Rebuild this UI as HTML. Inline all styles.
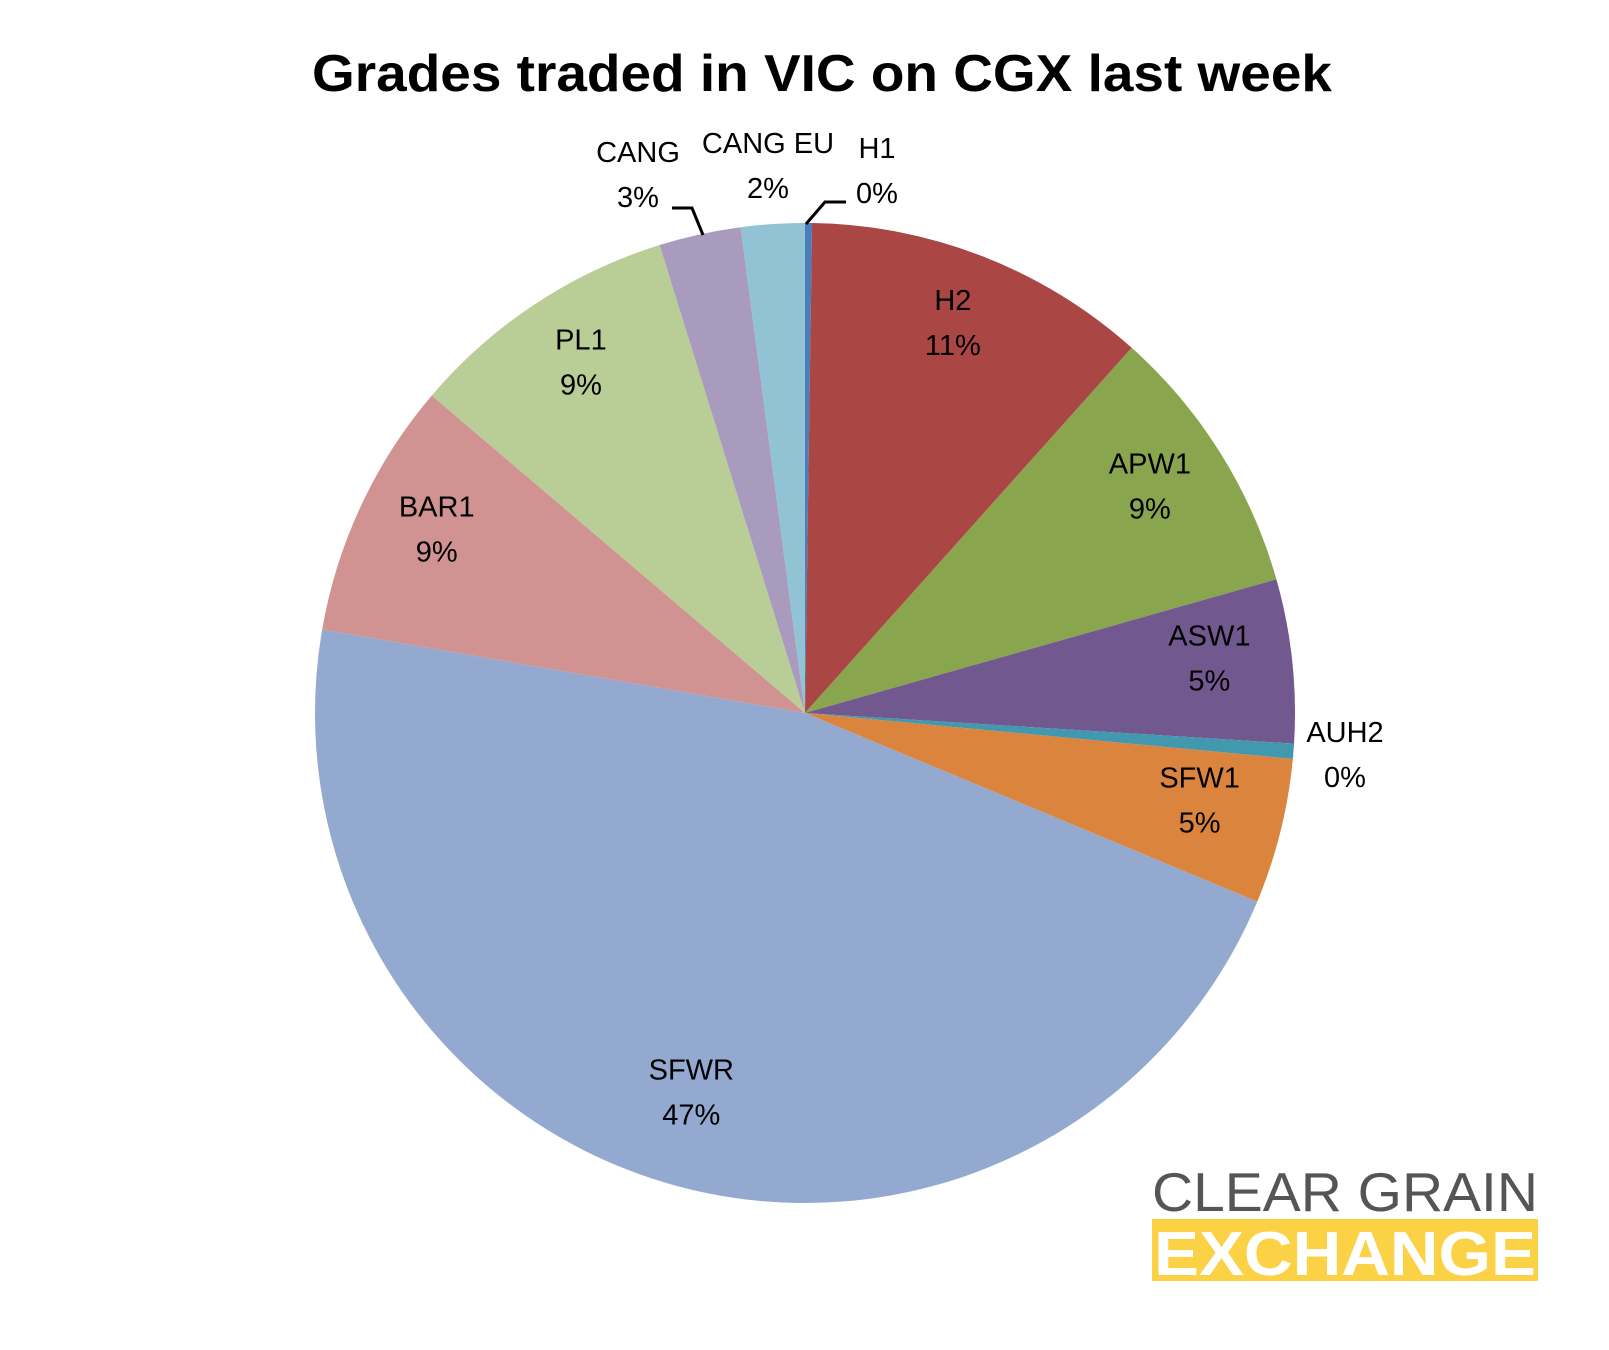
<!DOCTYPE html>
<html><head><meta charset="utf-8"><style>
html,body{margin:0;padding:0;background:#fff;}
svg{display:block;font-family:"Liberation Sans",sans-serif;}
</style></head><body>
<svg id="chart" width="1609" height="1350" viewBox="0 0 1609 1350">
<text x="822" y="91" text-anchor="middle" font-size="52" font-weight="bold" textLength="1020" lengthAdjust="spacingAndGlyphs">Grades traded in VIC on CGX last week</text>
<g id="slices"></g>
<g id="labels"></g>
<g>
<text x="1152" y="1211" font-size="55" fill="#555" textLength="386" lengthAdjust="spacingAndGlyphs">CLEAR GRAIN</text>
<rect x="1152" y="1219" width="386" height="62" fill="#fbd146"/>
<text x="1154" y="1275" font-size="62" font-weight="bold" fill="#fff" textLength="382" lengthAdjust="spacingAndGlyphs">EXCHANGE</text>
</g>
</svg>
<script>
const categories = ["H1","H2","APW1","ASW1","AUH2","SFW1","SFWR","BAR1","PL1","CANG","CANG EU"];
const values = [0.23,11.4,9.0,5.4,0.5,4.8,46.5,8.5,9.0,2.7,2.1];
const pctLabels = ["0%","11%","9%","5%","0%","5%","47%","9%","9%","3%","2%"];
const colors = ["#4a7ebb","#aa4643","#89a54e","#71588f","#4198af","#db843d","#93a9cf","#d19392","#b9cd96","#a99bbd","#92c3d4"];
const cx = 805, cy = 713, r = 490;
const NS = "http://www.w3.org/2000/svg";
const total = values.reduce((a,b)=>a+b,0);
const outside = {
  "H1": {x:877, y:148, line:[[806,224],[825,202],[846,202]]},
  "CANG": {x:638, y:152, line:[[703,235],[692,208],[672,208]]},
  "CANG EU": {x:768, y:143, line:null},
  "AUH2": {x:1345, y:732, line:null}
};
function pt(a, rr){ return [cx + rr*Math.sin(a), cy - rr*Math.cos(a)]; }
const sg = document.getElementById('slices'), lg = document.getElementById('labels');
let acc = 0;
values.forEach((v,i)=>{
  const a0 = acc/total*2*Math.PI; acc += v; const a1 = acc/total*2*Math.PI;
  const p0 = pt(a0,r), p1 = pt(a1,r);
  const large = (a1-a0) > Math.PI ? 1 : 0;
  const path = document.createElementNS(NS,'path');
  path.setAttribute('d',`M${cx},${cy}L${p0[0]},${p0[1]}A${r},${r} 0 ${large} 1 ${p1[0]},${p1[1]}Z`);
  path.setAttribute('fill',colors[i]);
  
  
  sg.appendChild(path);
  let lx, ly;
  const o = outside[categories[i]];
  if (o) { lx = o.x; ly = o.y;
    if (o.line) {
      const pl = document.createElementNS(NS,'polyline');
      pl.setAttribute('points', o.line.map(p=>p.join(',')).join(' '));
      pl.setAttribute('fill','none'); pl.setAttribute('stroke','#000'); pl.setAttribute('stroke-width','3');
      
      
      lg.appendChild(pl);
    }
  } else {
    const m = pt((a0+a1)/2, r*0.83); lx = m[0]; ly = m[1]-34;
  }
  [[categories[i],ly],[pctLabels[i],ly+45]].forEach(([t,y],k)=>{
    const tx = document.createElementNS(NS,'text');
    tx.setAttribute('x',lx); tx.setAttribute('y',y+10);
    tx.setAttribute('text-anchor','middle'); tx.setAttribute('font-size','29');
    tx.textContent = t;
    
    
    lg.appendChild(tx);
  });
});
</script>
</body></html>
